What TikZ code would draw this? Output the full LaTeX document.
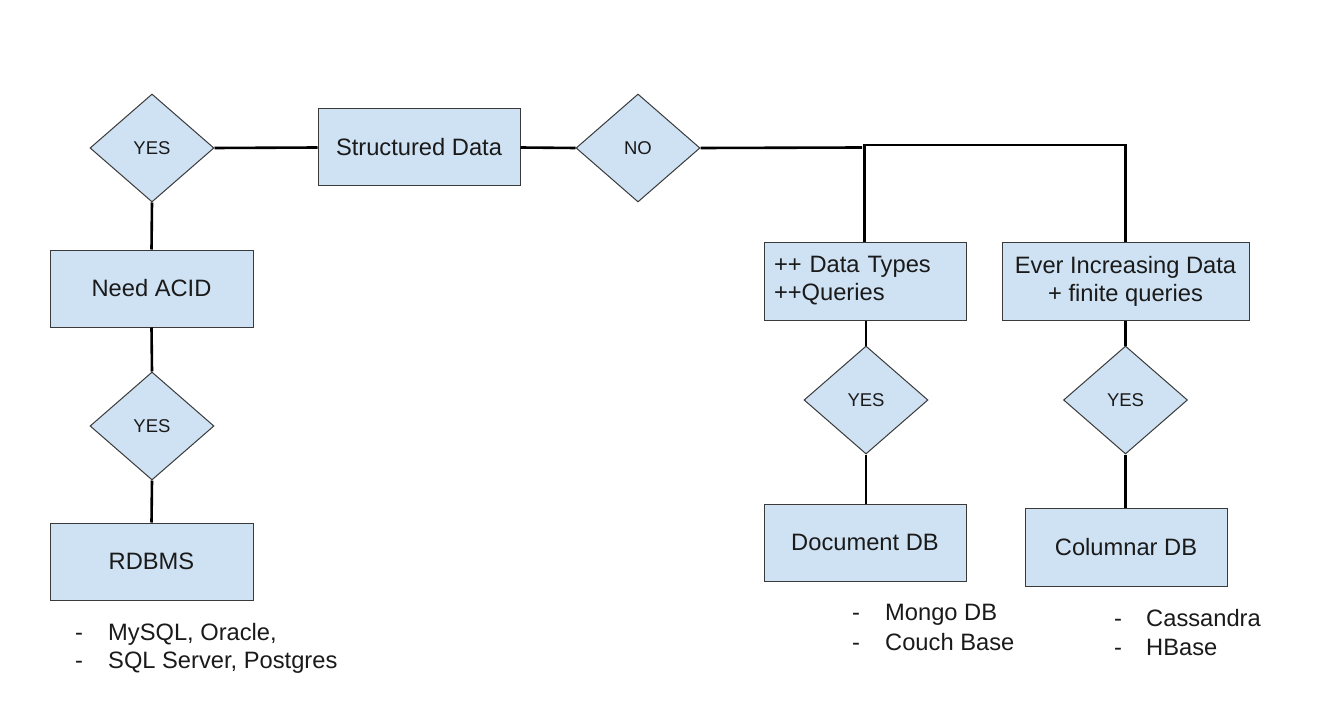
\documentclass[tikz,border=0pt]{standalone}
\usepackage{fontspec}
\setmainfont{Liberation Sans}
\usetikzlibrary{shapes.geometric}
\definecolor{boxfill}{HTML}{CFE2F3}
\definecolor{boxline}{HTML}{3A3A3A}
\definecolor{txt}{HTML}{1A1A1A}
\tikzset{
  rbox/.style={draw=boxline, fill=boxfill, line width=1pt, rectangle, inner sep=0pt,
    text=txt, font=\fontsize{23.7}{28}\selectfont, align=center},
  dia/.style={draw=boxline, fill=boxfill, line width=1pt, diamond, inner sep=0pt,
    minimum width=124pt, minimum height=108pt, text=txt, font=\fontsize{18.5}{22}\selectfont},
  conn/.style={draw=black, line width=2.6pt},
  bul/.style={anchor=west, inner sep=0pt, text height=17pt, text depth=5pt, text=txt,
    font=\fontsize{23.7}{28}\selectfont}
}
\begin{document}
\begin{tikzpicture}[x=1pt, y=-1pt]
\useasboundingbox (0,0) rectangle (1333,722);
\fill[white] (0,0) rectangle (1333,722);
% nodes
\node[dia] (y1) at (152,148) {YES};
\node[rbox, minimum width=202pt, minimum height=77pt] (sd) at (419,147.5) {Structured Data};
\node[dia] (no) at (638,148) {NO};
\node[rbox, minimum width=203pt, minimum height=77pt] (acid) at (151.5,288.5) {Need ACID};
\node[dia] (y2) at (152,426) {YES};
\node[rbox, minimum width=203pt, minimum height=77pt] (rdb) at (151.5,561.5) {RDBMS};
\node[rbox, minimum width=202pt, minimum height=78pt, align=left, text width=182pt] (dt) at (865,281) {++ Data Types\\++Queries};
\node[rbox, minimum width=247pt, minimum height=78pt] (ei) at (1125.5,281) {Ever Increasing Data\\+ finite queries};
\node[dia] (y3) at (866,400) {YES};
\node[dia] (y4) at (1125.5,400) {YES};
\node[rbox, minimum width=202pt, minimum height=77pt] (doc) at (865,542.5) {Document DB};
\node[rbox, minimum width=202pt, minimum height=78pt] (col) at (1126,547) {Columnar DB};
% bullet lists
\node[bul] (b1a) at (75,634) {-};
\node[bul] (b1b) at (108,634) {MySQL, Oracle,};
\node[bul] (b2a) at (75,662) {-};
\node[bul] (b2b) at (108,662) {SQL Server, Postgres};
\node[bul] (b3a) at (852,614) {-};
\node[bul] (b3b) at (885,614) {Mongo DB};
\node[bul] (b4a) at (852,644) {-};
\node[bul] (b4b) at (885,644) {Couch Base};
\node[bul] (b5a) at (1114,620) {-};
\node[bul] (b5b) at (1146,620) {Cassandra};
\node[bul] (b6a) at (1114,649) {-};
\node[bul] (b6b) at (1146,649) {HBase};
% junction coordinates
\coordinate (j1) at (862,147.5);
\coordinate (j2) at (864.5,145);
% connectors
\draw[conn] (sd.west) -- (y1.east);
\draw[conn] (y1.south) -- (acid.north);
\draw[conn] (acid.south) -- (y2.north);
\draw[conn] (y2.south) -- (rdb.north);
\draw[conn] (sd.east) -- (no.west);
\draw[conn] (no.east) -- (j1);
\draw[conn] (dt.north -| j2) -- (j2) -| (ei.north);
\draw[conn] (dt.south -| y3.north) -- (y3.north);
\draw[conn] (y3.south) -- (doc.north -| y3.south);
\draw[conn] (ei.south) -- (y4.north);
\draw[conn] (y4.south) -- (col.north -| y4.south);
\end{tikzpicture}
\end{document}
